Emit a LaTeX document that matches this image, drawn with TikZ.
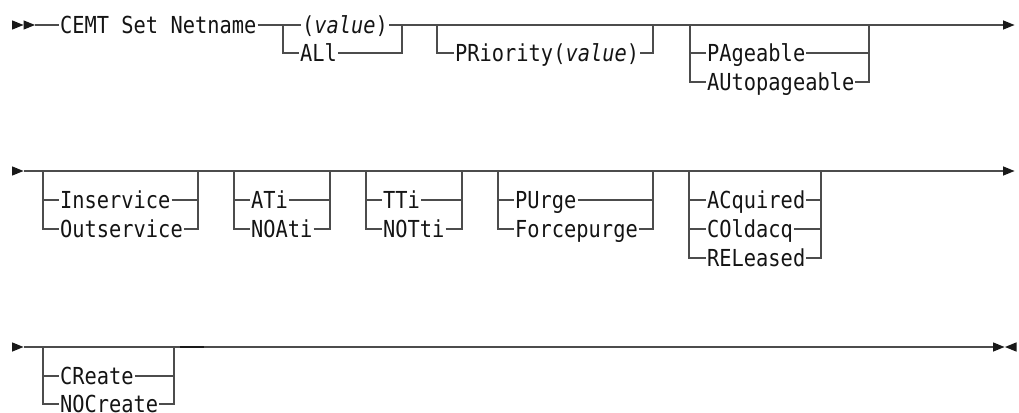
\documentclass[tikz,border=0pt]{standalone}
\usepackage{fontspec}
\newfontfamily\railfont{DejaVu Sans Mono}[FakeStretch=0.87]
\usetikzlibrary{positioning}

\begin{document}
\begin{tikzpicture}[x=1pt, y=-1pt,
            kw/.style={anchor=west, inner xsep=1pt, inner ysep=0pt,
                       text height=20pt, text depth=3.2pt,
                       font=\railfont\fontsize{23.4}{26}\selectfont, text=black!92},
            rail/.style={line width=1.2pt, draw=black!70},
            tipr/.pic={\fill[black!90] (0,-4.7) -- (11.5,0) -- (0,4.7) -- cycle;},
            tipl/.pic={\fill[black!90] (11.5,-4.7) -- (0,0) -- (11.5,4.7) -- cycle;}
        ]
            \useasboundingbox (0,0) rectangle (1019,412);

            % first line
            \coordinate (a0) at (35,25);
            \coordinate (netL) at (283,25);
            \coordinate (netR) at (402,25);
            \coordinate (priL) at (437,25);
            \coordinate (priR) at (653,25);
            \coordinate (pagL) at (690,25);
            \coordinate (pagR) at (869,25);
            \coordinate (a9) at (1003,25);

            \pic at (12,25) {tipr};
            \pic at (23.5,25) {tipr};
            \node[kw] (cemt) at (59,25) {CEMT Set Netname};
            \node[kw] (nval) at (301,25) {(\textit{value})};
            \node[kw] (nall) at (299,53) {ALl};
            \node[kw] (prio) at (454,53) {PRiority(\textit{value})};
            \node[kw] (page) at (706,53) {PAgeable};
            \node[kw] (autp) at (706,82) {AUtopageable};

            \draw[rail] (a0) -- (cemt.west) (cemt.east) -- (nval.west) (nval.east) -- (a9);
            \draw[rail] (netL) |- (nall.west) (nall.east) -| (netR);
            \draw[rail] (priL) |- (prio.west) (prio.east) -| (priR);
            \draw[rail] (pagL) |- (autp.west) (pagL) |- (page.west)
                        (page.east) -| (pagR) (autp.east) -| (pagR);
            \pic at (a9) {tipr};

            % second line
            \coordinate (b0) at (23.5,171);
            \coordinate (insL) at (43,171);
            \coordinate (insR) at (198,171);
            \coordinate (atiL) at (234,171);
            \coordinate (atiR) at (330,171);
            \coordinate (ttiL) at (366,171);
            \coordinate (ttiR) at (462,171);
            \coordinate (purL) at (498,171);
            \coordinate (purR) at (653,171);
            \coordinate (acqL) at (689,171);
            \coordinate (acqR) at (821,171);
            \coordinate (b9) at (1003,171);

            \pic at (12,171) {tipr};
            \node[kw] (insv) at (59,200) {Inservice};
            \node[kw] (outs) at (59,229) {Outservice};
            \node[kw] (atin) at (250,200) {ATi};
            \node[kw] (noat) at (250,229) {NOAti};
            \node[kw] (ttin) at (382,200) {TTi};
            \node[kw] (nott) at (382,229) {NOTti};
            \node[kw] (purg) at (514,200) {PUrge};
            \node[kw] (forc) at (514,229) {Forcepurge};
            \node[kw] (acqu) at (706,200) {ACquired};
            \node[kw] (cold) at (706,229) {COldacq};
            \node[kw] (rele) at (706,258) {RELeased};

            \draw[rail] (b0) -- (b9);
            \foreach \p/\u/\v in {ins/insv/outs, ati/atin/noat, tti/ttin/nott, pur/purg/forc}
                \draw[rail] (\p L) |- (\v.west) (\p L) |- (\u.west)
                            (\u.east) -| (\p R) (\v.east) -| (\p R);
            \draw[rail] (acqL) |- (rele.west) (acqL) |- (acqu.west) (acqL) |- (cold.west)
                        (acqu.east) -| (acqR) (cold.east) -| (acqR) (rele.east) -| (acqR);
            \pic at (b9) {tipr};

            % third line
            \coordinate (c0) at (23.5,347);
            \coordinate (creL) at (43,347);
            \coordinate (creR) at (174,347);
            \coordinate (dk1) at (180,347);
            \coordinate (dk2) at (204,347);
            \coordinate (c9) at (993,347);

            \pic at (12,347) {tipr};
            \node[kw] (crea) at (59,376) {CReate};
            \node[kw] (nocr) at (59,404) {NOCreate};

            \draw[rail] (c0) -- (c9);
            \draw[rail] (creL) |- (nocr.west) (creL) |- (crea.west)
                        (crea.east) -| (creR) (nocr.east) -| (creR);
            \draw[line width=1.8pt, black!90] (dk1) -- (dk2);
            \pic at (c9) {tipr};
            \pic at (1005,347) {tipl};
        \end{tikzpicture}
\end{document}
